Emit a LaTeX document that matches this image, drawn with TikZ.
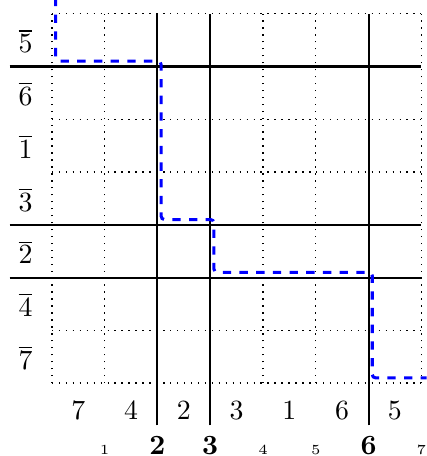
\documentclass[tikz,border=0pt]{standalone}
\usepackage{amsmath}
\definecolor{myblue}{RGB}{0,0,255}
\usetikzlibrary{positioning}

\begin{document}
\begin{tikzpicture}[x=0.667cm, y=0.667cm,
        wall/.style={line width=0.75pt},
        walk/.style={myblue, line width=1.1pt, dashed, rounded corners=1.2pt}]
        \useasboundingbox (-0.983,-1.38) rectangle (7.09,7.26);
        \draw[dotted, line width=0.5pt, step=0.667cm] (0,0) grid (7,7);
        \foreach \x in {2,3,6}
        {
            \draw[wall] (\x,-0.8) -- (\x,7);
            \draw[wall] (-0.8,\x) -- (7,\x);
        }
        % row labels, top to bottom
        \foreach \y/\lab in {6/5, 5/6, 4/1, 3/3, 2/2, 1/4, 0/7}
        {
            \node[anchor=base, inner sep=0pt] (row\lab) at (-0.5,\y+0.26) {$\overline{\lab}$};
        }
        % column labels
        \foreach \x/\lab in {0/7, 1/4, 2/2, 3/3, 4/1, 5/6, 6/5}
        {
            \node[anchor=base, inner sep=0pt] (col\lab) at (\x+0.5,-0.68) {$\lab$};
        }
        % positions below
        \foreach \x/\lab in {1/{\tiny 1}, 2/{$\mathbf{2}$}, 3/{$\mathbf{3}$}, 4/{\tiny 4}, 5/{\tiny 5}, 6/{$\mathbf{6}$}, 7/{\tiny 7}}
        {
            \node[anchor=base, inner sep=0pt] (pos\x) at (\x,-1.35) {\lab};
        }
        \draw[walk] (0.07,7.3) -- (0.07,6.1) -- (2.07,6.1) -- (2.07,3.1) -- (3.07,3.1)
            -- (3.07,2.1) -- (6.07,2.1) -- (6.07,0.1) -- (7.1,0.1);
    \end{tikzpicture}
\end{document}
